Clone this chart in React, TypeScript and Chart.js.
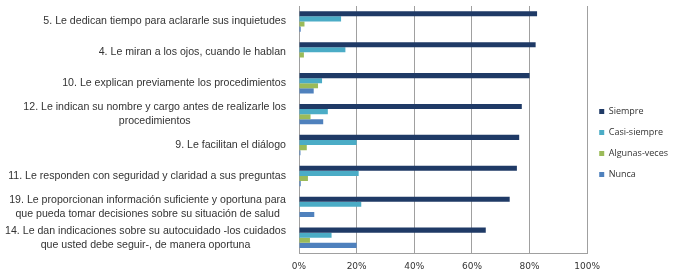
import React, { useEffect, useRef } from "react";
import { Chart, registerables } from "chart.js";

Chart.register(...registerables);

const categories: string[][] = [
  ["5. Le dedican tiempo para aclararle sus inquietudes"],
  ["4. Le miran a los ojos, cuando le hablan"],
  ["10. Le explican previamente los procedimientos"],
  ["12. Le indican su nombre y cargo antes de realizarle los", "procedimientos"],
  ["9. Le facilitan el diálogo"],
  ["11. Le responden con seguridad y claridad a sus preguntas"],
  ["19. Le proporcionan información suficiente y oportuna para", "que pueda tomar decisiones sobre su situación de salud"],
  ["14. Le dan indicaciones sobre su autocuidado -los cuidados", "que usted debe seguir-, de manera oportuna"],
];

const seriesNames = ["Siempre", "Casi-siempre", "Algunas-veces", "Nunca"];

const siempre = [82.6, 82.1, 80.0, 77.3, 76.4, 75.6, 73.1, 64.8];
const casiSiempre = [14.6, 16.1, 8.0, 10.0, 20.0, 20.7, 21.6, 11.3];
const algunasVeces = [1.9, 1.7, 6.6, 4.0, 2.7, 3.1, 0, 3.8];
const nunca = [0.6, 0.2, 5.1, 8.4, 0.5, 0.6, 5.3, 20.0];

const xTicks = [0, 20, 40, 60, 80, 100];

const colors = ["#1F3A66", "#4BACC6", "#9BBB59", "#4F81BD"];

const yLabelPlugin = {
  id: "yLabelPlugin",
  afterDraw(chart: any) {
    const ys = chart.scales.y;
    const ctx = chart.ctx;
    ctx.save();
    ctx.font = '10.6px "Liberation Sans", Arial, sans-serif';
    ctx.fillStyle = "#333333";
    ctx.textBaseline = "middle";
    ctx.textAlign = "center";
    const lh = 14;
    categories.forEach((lines, i) => {
      const cy = ys.getPixelForTick(i);
      const w = Math.max(...lines.map((l) => ctx.measureText(l).width));
      const right = ys.right - 13;
      const cx = right - w / 2;
      const start = cy - ((lines.length - 1) * lh) / 2;
      lines.forEach((l, k) => ctx.fillText(l, cx, start + k * lh));
    });
    ctx.restore();
  },
};

export default function App() {
  const ref = useRef<HTMLCanvasElement>(null);
  useEffect(() => {
    document.body.style.margin = "0";
    const data = [siempre, casiSiempre, algunasVeces, nunca];
    const chart = new Chart(ref.current!, {
      type: "bar",
      data: {
        labels: categories.map((c) => c.join(" ")),
        datasets: seriesNames.map((n, i) => ({
          label: n,
          data: data[i],
          backgroundColor: colors[i],
          borderWidth: 0,
          categoryPercentage: 0.66,
          barPercentage: 1,
        })),
      },
      options: {
        indexAxis: "y",
        responsive: false,
        animation: false,
        layout: { padding: { top: 6, bottom: 0, left: 0, right: 13 } },
        plugins: {
          tooltip: { enabled: false },
          legend: {
            position: "right",
            align: "center",
            labels: {
              boxWidth: 5,
              boxHeight: 5,
              padding: 12,
              color: "#333333",
              font: { family: '"Open Sans", sans-serif', size: 9 },
            },
          },
        },
        scales: {
          x: {
            min: 0,
            max: 100,
            afterBuildTicks: (scale: any) => {
              scale.ticks = xTicks.map((v) => ({ value: v }));
            },
            ticks: {
              callback: (v: any) => v + "%",
              color: "#333333",
              padding: 8,
              font: { family: '"DejaVu Sans", Verdana, sans-serif', size: 9 },
            },
            grid: { color: "#A0A0A0", drawTicks: false },
            border: { color: "#A0A0A0" },
          },
          y: {
            ticks: { display: false },
            afterFit: (scale: any) => {
              scale.width = 299;
            },
            grid: { display: false, drawTicks: false },
            border: { color: "#A0A0A0" },
          },
        },
      },
      plugins: [yLabelPlugin],
    } as any);
    return () => chart.destroy();
  }, []);
  return (
    <div style={{ position: "absolute", left: 0, top: 0, width: 691, height: 280, background: "#fff" }}>
      <canvas ref={ref} width={691} height={280} />
    </div>
  );
}
